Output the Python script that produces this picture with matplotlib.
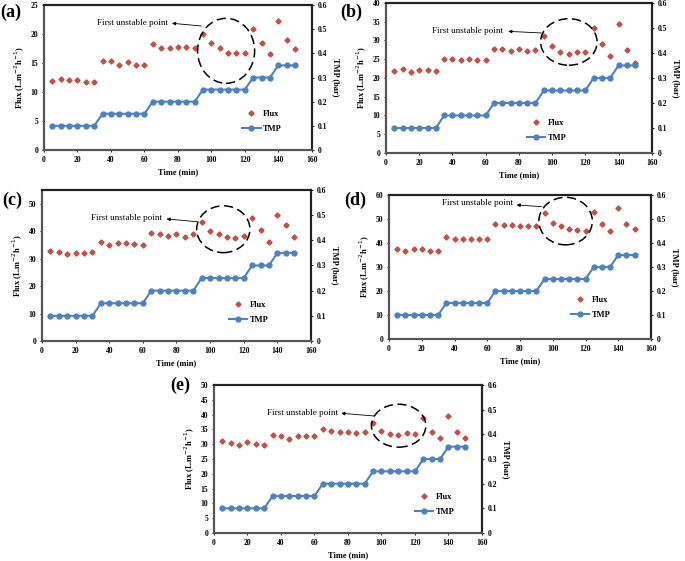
import matplotlib
matplotlib.use("Agg")
from matplotlib import pyplot as plt
from matplotlib.patches import Ellipse
from matplotlib.lines import Line2D

plt.rcParams['font.family'] = ['Liberation Serif', 'DejaVu Serif']

# time (min) and transmembrane pressure, same for every run
time = [5, 10, 15, 20, 25, 30, 35, 40, 45, 50, 55, 60, 65, 70, 75, 80, 85, 90,
        95, 100, 105, 110, 115, 120, 125, 130, 135, 140, 145, 150]
tmp = [0.10] * 6 + [0.15] * 6 + [0.20] * 6 + [0.25] * 6 + [0.30] * 3 + [0.35] * 3

flux_a = [11.9, 12.2, 12.0, 12.0, 11.7, 11.8, 15.3, 15.3, 14.6, 15.1, 14.6, 14.6,
          18.2, 17.5, 17.5, 17.8, 17.8, 17.5, 20.0, 18.5, 17.5, 16.8, 16.8, 16.8,
          20.9, 18.5, 16.5, 22.2, 18.9, 17.4]
flux_b = [21.8, 22.4, 21.7, 22.2, 22.0, 21.9, 25.1, 25.1, 24.7, 25.1, 24.7, 24.9,
          27.8, 27.8, 27.1, 27.6, 27.3, 27.5, 31.1, 28.4, 26.9, 26.4, 26.9, 26.9,
          33.4, 29.0, 25.8, 34.4, 27.5, 24.1]
flux_c = [32.6, 32.3, 31.8, 32.1, 32.1, 32.3, 35.9, 35.0, 35.6, 35.6, 35.2, 35.0,
          39.5, 38.8, 38.3, 39.0, 38.0, 38.8, 43.5, 39.9, 38.8, 38.0, 37.6, 38.3,
          44.8, 40.4, 35.9, 45.9, 42.1, 37.7]
flux_d = [37.4, 36.7, 37.3, 37.3, 36.6, 36.6, 42.4, 41.8, 41.8, 41.8, 41.8, 41.8,
          47.9, 47.5, 47.5, 47.0, 47.0, 47.2, 52.5, 48.3, 47.0, 45.8, 45.6, 45.0,
          52.8, 48.1, 45.0, 54.4, 48.1, 45.8]
flux_e = [31.1, 30.4, 29.7, 30.8, 30.2, 29.7, 33.1, 32.7, 31.9, 32.7, 32.9, 32.9,
          35.2, 34.5, 34.2, 34.2, 33.9, 34.2, 37.1, 34.5, 33.5, 33.1, 33.9, 33.5,
          38.7, 34.2, 32.1, 39.7, 34.2, 32.2]

panel_labels = ['(a)', '(b)', '(c)', '(d)', '(e)']
flux_sets = [flux_a, flux_b, flux_c, flux_d, flux_e]
flux_limits = [(25, 5), (40, 5), (55, 10), (60, 10), (50, 5)]

FLUX_COLOR = '#C0504D'
TMP_COLOR = '#4F81BD'

# layout per panel: axes rect, label pos, ellipse, text, arrow, legend
panels = [
    dict(rect=[0.0642, 0.7326, 0.391, 0.2585], lab=(0.000, 0.978),
         ell=(0.68, 0.684, 0.213, 0.448), txt=(0.465, 0.878),
         head=(0.478, 0.874), tail=(0.588, 0.855), leg=(0.74, 0.195)),
    dict(rect=[0.5635, 0.7273, 0.388, 0.2674], lab=(0.497, 0.978),
         ell=(0.688, 0.74, 0.2125, 0.31), txt=(0.441, 0.816),
         head=(0.46, 0.811), tail=(0.585, 0.80), leg=(0.53, 0.15)),
    dict(rect=[0.0613, 0.3922, 0.3927, 0.2692], lab=(0.004, 0.643),
         ell=(0.674, 0.74, 0.198, 0.31), txt=(0.445, 0.816),
         head=(0.463, 0.808), tail=(0.575, 0.79), leg=(0.695, 0.19)),
    dict(rect=[0.5679, 0.3957, 0.3825, 0.2567], lab=(0.503, 0.643),
         ell=(0.674, 0.819, 0.204, 0.33), txt=(0.4745, 0.942),
         head=(0.487, 0.931), tail=(0.583, 0.919), leg=(0.695, 0.218)),
    dict(rect=[0.3124, 0.0499, 0.3912, 0.2638], lab=(0.248, 0.313),
         ell=(0.689, 0.725, 0.203, 0.29), txt=(0.464, 0.813),
         head=(0.475, 0.809), tail=(0.596, 0.791), leg=(0.75, 0.193)),
]

fig = plt.figure(figsize=(6.85, 5.61), dpi=100)

for label, flux, (ytop, ystep), p in zip(panel_labels, flux_sets, flux_limits, panels):
    ax = fig.add_axes(p['rect'])
    ax2 = ax.twinx()

    ax.plot(time, flux, linestyle='none', marker='D', markersize=2.6,
            color=FLUX_COLOR, zorder=3)
    ax2.plot(time, tmp, color=TMP_COLOR, linewidth=1.5, marker='o',
             markersize=3.5, zorder=3)

    ax.set_xlim(0, 160)
    ax.set_xticks(range(0, 161, 20))
    ax.set_ylim(0, ytop)
    ax.set_yticks(range(0, int(ytop) + 1, ystep))
    ax2.set_ylim(0, 0.6)
    ax2.set_yticks([0, 0.1, 0.2, 0.3, 0.4, 0.5, 0.6])
    ax2.set_yticklabels(['0', '0.1', '0.2', '0.3', '0.4', '0.5', '0.6'])

    for a in (ax, ax2):
        a.tick_params(axis='both', which='both', length=1.5, width=0.6,
                      labelsize=5.5, pad=2.5)
        for tl in a.get_xticklabels() + a.get_yticklabels():
            tl.set_fontweight('bold')
        for side in a.spines:
            a.spines[side].set_linewidth(1.5)
            a.spines[side].set_color('#222222')
    # left and bottom frame look greyer in the original
    ax2.spines['left'].set_color('#555555')
    ax2.spines['bottom'].set_color('#555555')

    ax.set_xlabel('Time (min)', fontsize=6, fontweight='bold', labelpad=3)
    ax.set_ylabel(r'Flux (L.m$^{-2}$h$^{-1}$)', fontsize=6, fontweight='bold', labelpad=3)
    ax2.set_ylabel('TMP (bar)', fontsize=6, fontweight='bold', rotation=270, labelpad=9)

    # unstable region marker
    cx, cy, w, h = p['ell']
    ax.add_patch(Ellipse((cx, cy), w, h, transform=ax.transAxes, fill=False,
                         edgecolor='black', linewidth=1.1, linestyle=(0, (6, 3)),
                         zorder=4, clip_on=False))
    ax.text(p['txt'][0], p['txt'][1], 'First unstable point', transform=ax.transAxes,
            ha='right', va='center', fontsize=6.6)
    ax.annotate('', xy=p['head'], xycoords='axes fraction',
                xytext=p['tail'], textcoords='axes fraction',
                arrowprops=dict(arrowstyle='-|>', color='black', lw=0.6,
                                mutation_scale=5, shrinkA=0, shrinkB=0))

    handles = [Line2D([], [], linestyle='none', marker='D', markersize=2.6, color=FLUX_COLOR),
               Line2D([], [], color=TMP_COLOR, linewidth=1.5, marker='o', markersize=3.5)]
    ax2.legend(handles, ['Flux', 'TMP'], loc='center left', bbox_to_anchor=p['leg'],
               frameon=False, borderpad=0, borderaxespad=0, handlelength=2.2,
               handletextpad=0.3, labelspacing=0.8,
               prop=dict(family='Liberation Serif', weight='bold', size=6))

    fig.text(p['lab'][0], p['lab'][1], label, fontsize=13, fontweight='bold',
             ha='left', va='center')

fig.savefig('out.png', dpi=100)
